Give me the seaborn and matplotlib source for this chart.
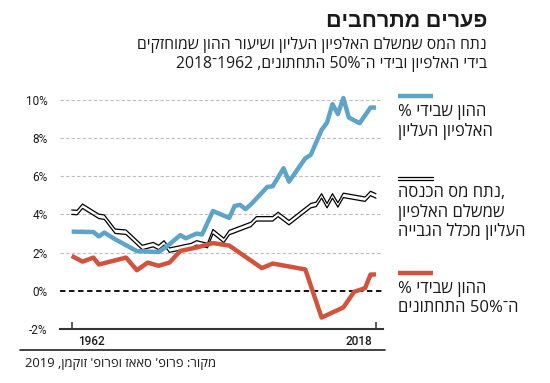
import re
import matplotlib
matplotlib.use('Agg')
import matplotlib.pyplot as plt
from matplotlib.lines import Line2D
from matplotlib.transforms import offset_copy
import seaborn as sns
import pandas as pd

# top 0.1% share of wealth (%)
top_years = [1962, 1966, 1967, 1968, 1970, 1974, 1978, 1980, 1982, 1983, 1985, 1986,
             1988, 1991, 1992, 1993, 1994, 1995, 1998, 1999, 2001, 2002, 2005, 2006,
             2008, 2009, 2010, 2011, 2012, 2013, 2015, 2017, 2018]
top_share = [3.10, 3.08, 2.85, 3.05, 2.70, 2.08, 2.03, 2.44, 2.92, 2.75, 3.00, 2.95,
             4.18, 3.82, 4.45, 4.50, 4.28, 4.53, 5.44, 5.48, 6.42, 5.72, 6.94, 7.12,
             8.43, 8.81, 9.78, 9.26, 10.10, 9.08, 8.78, 9.60, 9.60]

# share of income tax paid by the top 0.1% (%)
tax_years = [1962, 1963, 1964, 1967, 1968, 1970, 1972, 1975, 1977, 1978, 1979, 1980,
             1984, 1985, 1987, 1988, 1990, 1991, 1995, 1996, 1999, 2000, 2002, 2006,
             2007, 2008, 2009, 2010, 2011, 2012, 2016, 2017, 2018]
tax_share = [4.12, 4.10, 4.43, 3.90, 3.86, 3.12, 3.07, 2.27, 2.42, 2.27, 2.51, 2.13,
             2.37, 2.51, 2.37, 3.10, 2.64, 3.05, 3.48, 3.77, 3.77, 4.00, 3.57, 4.46,
             4.53, 4.97, 4.46, 4.97, 4.50, 5.00, 4.80, 5.10, 4.97]

# bottom 50% share of wealth (%)
bottom_years = [1962, 1964, 1966, 1967, 1972, 1974, 1976, 1978, 1980, 1982, 1985, 1988,
                1991, 1997, 1999, 2005, 2008, 2012, 2014, 2016, 2017, 2018]
bottom_share = [1.83, 1.53, 1.74, 1.38, 1.74, 1.08, 1.48, 1.31, 1.48, 2.09, 2.27, 2.50,
                2.37, 1.19, 1.43, 1.12, -1.40, -0.87, -0.05, 0.14, 0.85, 0.86]

y_ticks = [-2, 0, 2, 4, 6, 8, 10]
y_labels = ['-2%', '0%', '2%', '4%', '6%', '8%', '10%']
x_ticks = [1962, 2018]

title = 'פערים מתרחבים'
subtitle = ['נתח המס שמשלם האלפיון העליון ושיעור ההון שמוחזקים',
            'בידי האלפיון ובידי ה־50% התחתונים, 1962־2018']
legend_top = ['% ההון שבידי', 'האלפיון העליון']
legend_tax = ['נתח מס הכנסה,', 'שמשלם האלפיון', 'העליון מכלל הגבייה']
legend_bottom = ['% ההון שבידי', 'ה־50% התחתונים']
source = "מקור: פרופ' סאאז ופרופ' זוקמן, 2019"

BLUE = '#5ea3c9'
RED = '#d2533b'
INK = '#1a1a1a'

HEB = re.compile('[\u0590-\u05FF]')


## matplotlib has no bidi, so lay the hebrew run out by hand (ltr paragraph like the original)
def visual(s):
  idx = [i for i, c in enumerate(s) if HEB.match(c)]
  if not idx:
    return s
  start, end = idx[0], idx[-1] + 1
  m = re.match(r'[ ,.]*\d[\d%]*', s[end:])
  if m:
    end += m.end()
  mid = s[start:end][::-1]
  mid = re.sub(r'%?\d+', lambda g: g.group(0)[::-1], mid)
  return s[:start] + mid + s[end:]


sns.set_theme(style='white')
plt.rcParams['font.family'] = ['Open Sans', 'Liberation Sans', 'DejaVu Sans']

W, H = 550, 383
fig = plt.figure(figsize=(W / 100, H / 100), dpi=100)
ax = fig.add_axes([60 / W, 1 - 329 / H, 323 / W, 235 / H])


def fx(px):
  return px / W


def fy(py):
  return 1 - py / H


df_top = pd.DataFrame({'year': top_years, 'share': top_share})
df_tax = pd.DataFrame({'year': tax_years, 'share': tax_share})
df_bottom = pd.DataFrame({'year': bottom_years, 'share': bottom_share})

# tax share drawn as a double hairline, shifted up / down a couple of pixels
for dy in (2.2, -2.2):
  sns.lineplot(data=df_tax, x='year', y='share', ax=ax, color='black',
               linewidth=0.9, estimator=None, sort=False)
  ax.lines[-1].set_transform(offset_copy(ax.transData, fig=fig, y=dy, units='dots'))

sns.lineplot(data=df_bottom, x='year', y='share', ax=ax, color=RED,
             linewidth=3.2, estimator=None, sort=False, solid_capstyle='butt')
sns.lineplot(data=df_top, x='year', y='share', ax=ax, color=BLUE,
             linewidth=3.2, estimator=None, sort=False, solid_capstyle='butt')

ax.set_xlim(1959.85, 2019.3)
ax.set_ylim(-2, 10.31)
ax.set_xlabel('')
ax.set_ylabel('')

ax.set_yticks(y_ticks)
ax.set_yticklabels(y_labels, fontsize=8.5, color=INK, family='Roboto')
ax.tick_params(axis='y', length=0, pad=9)
ax.grid(axis='y', color='#bdbdbd', linewidth=0.8, linestyle=(0, (3, 2)))
ax.grid(axis='x', visible=False)
for val, gl in zip(y_ticks, ax.get_ygridlines()):
  if val == -2:
    gl.set_visible(False)
  elif val == 0:
    gl.set_color('black')
    gl.set_linewidth(1.3)
    gl.set_linestyle((0, (3, 2)))

for side in ('top', 'right', 'left'):
  ax.spines[side].set_visible(False)
ax.spines['bottom'].set_color('#333333')
ax.spines['bottom'].set_linewidth(1.5)

ax.set_xticks(x_ticks)
ax.set_xticklabels(['', ''])
ax.tick_params(axis='x', direction='out', length=13.5, width=1.1, color='#333333')
ax.vlines(x_ticks, -2, -2 + 7 / 19.08, color='#333333', linewidth=1.1)
ax.annotate(str(x_ticks[0]), (x_ticks[0], 0), xycoords=('data', 'axes fraction'),
            xytext=(4.5, -8.8), textcoords='offset points', ha='left', va='center',
            fontsize=8.5, color=INK, family='Roboto', fontweight='medium')
ax.annotate(str(x_ticks[1]), (x_ticks[1], 0), xycoords=('data', 'axes fraction'),
            xytext=(-3, -8.8), textcoords='offset points', ha='right', va='center',
            fontsize=8.5, color=INK, family='Roboto', fontweight='medium')

# titles
fig.text(fx(487), fy(21), visual(title), ha='right', va='center',
         fontsize=15.5, fontweight='black', color=INK)
fig.text(fx(487), fy(45), visual(subtitle[0]), ha='right', va='center',
         fontsize=11.3, color=INK)
fig.text(fx(487), fy(64), visual(subtitle[1]), ha='right', va='center',
         fontsize=11.3, color=INK)

# legend, built by hand to the right of the plot
LEG_FS = 12
fig.add_artist(Line2D([fx(398), fx(433)], [fy(96)] * 2, color=BLUE, linewidth=3.2,
                      solid_capstyle='butt'))
for i, line in enumerate(legend_top):
  fig.text(fx(398), fy(112 + 19.5 * i), visual(line), ha='left', va='center',
           fontsize=LEG_FS, color=INK)

for py in (176.8, 180.2):
  fig.add_artist(Line2D([fx(398), fx(433)], [fy(py)] * 2, color='black', linewidth=0.9))
for i, line in enumerate(legend_tax):
  fig.text(fx(398), fy(193 + 19.5 * i), visual(line), ha='left', va='center',
           fontsize=LEG_FS, color=INK)

fig.add_artist(Line2D([fx(398), fx(433)], [fy(273)] * 2, color=RED, linewidth=3.2,
                      solid_capstyle='butt'))
for i, line in enumerate(legend_bottom):
  fig.text(fx(398), fy(289 + 19.5 * i), visual(line), ha='left', va='center',
           fontsize=LEG_FS, color=INK)

# source
fig.add_artist(Line2D([fx(20), fx(385)], [fy(350)] * 2, color='#222222', linewidth=1.2))
fig.text(fx(25), fy(363), visual(source), ha='left', va='center', fontsize=9.4, color=INK)

fig.savefig('out.png', dpi=100, facecolor='white')
